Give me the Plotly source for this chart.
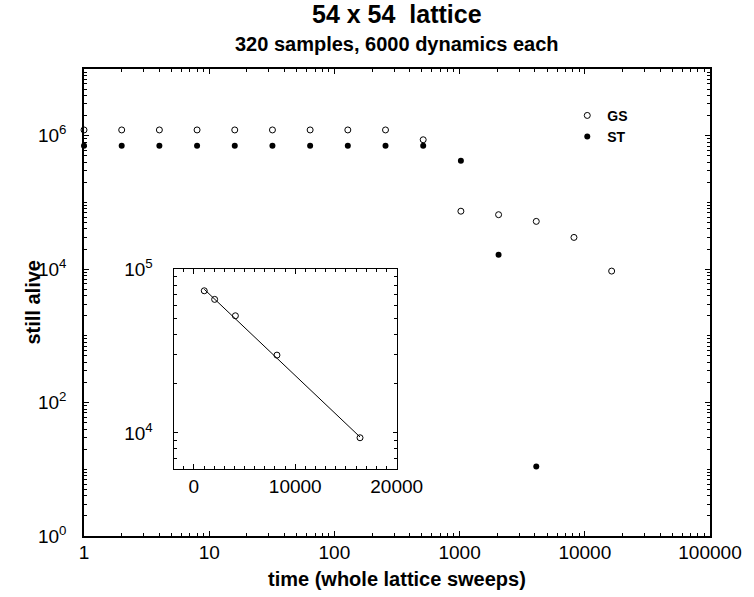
import plotly.graph_objects as go

# ---- data ----
t_gs = [1, 2, 4, 8, 16, 32, 64, 128, 256, 512, 1024, 2048, 4096, 8192, 16384]
gs_alive = [1.22e6, 1.22e6, 1.22e6, 1.22e6, 1.22e6, 1.22e6, 1.22e6, 1.22e6, 1.22e6,
            8.7e5, 7.39e4, 6.55e4, 5.2e4, 2.99e4, 9.35e3]
t_st = [1, 2, 4, 8, 16, 32, 64, 128, 256, 512, 1024, 2048, 4096]
st_alive = [7.1e5, 7.1e5, 7.1e5, 7.1e5, 7.1e5, 7.1e5, 7.1e5, 7.1e5, 7.1e5, 7.1e5,
            4.2e5, 1.65e4, 11]
inset_t = [1024, 2048, 4096, 8192, 16384]
inset_gs = [7.39e4, 6.55e4, 5.2e4, 2.99e4, 9.35e3]
fit_t = [1024, 16384]
fit_y = [75500, 9450]

x_tickvals = [1, 10, 100, 1000, 10000, 100000]
x_ticktext = ["1", "10", "100", "1000", "10000", "100000"]
y_tickvals = [1, 100, 1e4, 1e6]
y_ticktext = ["10<sup>0</sup>", "10<sup>2</sup>", "10<sup>4</sup>", "10<sup>6</sup>"]
inset_x_tickvals = [0, 10000, 20000]
inset_x_ticktext = ["0", "10000", "20000"]
inset_y_tickvals = [1e4, 1e5]
inset_y_ticktext = ["10<sup>4</sup>", "10<sup>5</sup>"]

FONT = "Liberation Sans, Arial, Helvetica, sans-serif"
BLACK = "#000000"

main_minor_x = [m * 10 ** d for d in range(0, 5) for m in range(2, 10)]
main_minor_y = [m * 10 ** d for d in range(0, 7) for m in range(2, 10)]
odd_decades = [10, 1e3, 1e5, 1e7]
inset_minor_y = [7000, 8000, 9000] + [m * 1e4 for m in range(2, 10)]

fig = go.Figure()

fig.add_trace(go.Scatter(
    x=t_gs, y=gs_alive, mode="markers", name="GS", cliponaxis=False,
    marker=dict(symbol="circle-open", size=6, color=BLACK, line=dict(width=1, color=BLACK)),
    xaxis="x", yaxis="y"))
fig.add_trace(go.Scatter(
    x=t_st, y=st_alive, mode="markers", name="ST", cliponaxis=False,
    marker=dict(symbol="circle", size=6, color=BLACK),
    xaxis="x", yaxis="y"))

fig.add_trace(go.Scatter(
    x=fit_t, y=fit_y, mode="lines", showlegend=False,
    line=dict(color=BLACK, width=1), xaxis="x2", yaxis="y2"))
fig.add_trace(go.Scatter(
    x=inset_t, y=inset_gs, mode="markers", showlegend=False,
    marker=dict(symbol="circle-open", size=6, color=BLACK, line=dict(width=1, color=BLACK)),
    xaxis="x2", yaxis="y2"))

axis_common = dict(showgrid=False, zeroline=False, showline=True, linecolor=BLACK,
                   mirror="allticks", ticks="inside", tickcolor=BLACK,
                   tickfont=dict(family=FONT, size=19, color=BLACK))

fig.update_layout(
    width=754, height=597,
    margin=dict(l=84, r=34, t=69, b=61),
    paper_bgcolor="white", plot_bgcolor="white",
    font=dict(family=FONT, color=BLACK),
    showlegend=True,
    legend=dict(x=0.772, y=0.934, xanchor="left", yanchor="top",
                bgcolor="rgba(0,0,0,0)", borderwidth=0,
                font=dict(family=FONT, size=14, color=BLACK, weight="bold"),
                itemwidth=30, tracegroupgap=0),
    xaxis=dict(**axis_common, type="log", range=[0, 5], linewidth=1.5,
               tickmode="array", tickvals=x_tickvals, ticktext=x_ticktext, ticklen=5, tickwidth=1,
               ticklabelstandoff=-2,
               minor=dict(tickmode="array", tickvals=main_minor_x, ticks="inside", ticklen=3,
                          tickcolor=BLACK, tickwidth=1, showgrid=False)),
    yaxis=dict(**axis_common, type="log", range=[0, 7], linewidth=1.5,
               tickmode="array", tickvals=y_tickvals, ticktext=y_ticktext, ticklen=5, tickwidth=1,
               ticklabelstandoff=12,
               minor=dict(tickmode="array", tickvals=sorted(main_minor_y + odd_decades),
                          ticks="inside", ticklen=3,
                          tickcolor=BLACK, tickwidth=1, showgrid=False)),
    xaxis2=dict(**axis_common, domain=[0.1431, 0.4995], anchor="y2", range=[-2000, 20000],
                linewidth=1.2, tickmode="array", tickvals=inset_x_tickvals,
                ticktext=inset_x_ticktext, ticklen=5, tickwidth=1,
                minor=dict(dtick=1000, tick0=0, ticks="inside", ticklen=3, tickcolor=BLACK,
                           tickwidth=1, showgrid=False)),
    yaxis2=dict(**axis_common, domain=[0.1428, 0.5711], anchor="x2", type="log",
                range=[3.778, 5], linewidth=1.2,
                tickmode="array", tickvals=inset_y_tickvals, ticktext=inset_y_ticktext,
                ticklen=4, tickwidth=1, ticklabelstandoff=16,
                minor=dict(tickmode="array", tickvals=inset_minor_y, ticks="inside", ticklen=3,
                           tickcolor=BLACK, tickwidth=1, showgrid=False)),
    annotations=[
        dict(text="<b>54 x 54\u00a0 lattice</b>", xref="paper", yref="paper", x=0.5, y=1.118,
             xanchor="center", yanchor="middle", showarrow=False,
             font=dict(family=FONT, size=25, color=BLACK)),
        dict(text="<b>320 samples, 6000 dynamics each</b>", xref="paper", yref="paper",
             x=0.5, y=1.053, xanchor="center", yanchor="middle", showarrow=False,
             font=dict(family=FONT, size=20, color=BLACK)),
        dict(text="<b>time (whole lattice sweeps)</b>", xref="paper", yref="paper",
             x=0.5, y=-0.092, xanchor="center", yanchor="middle", showarrow=False,
             font=dict(family=FONT, size=20, color=BLACK)),
        dict(text="<b>still alive</b>", xref="paper", yref="paper", textangle=-90,
             x=-0.083, y=0.5, xanchor="center", yanchor="middle", showarrow=False,
             font=dict(family=FONT, size=20, color=BLACK)),
    ],
)

fig.write_html("out.html", config={"displayModeBar": False},
               post_script="document.body.style.margin='0px';")
